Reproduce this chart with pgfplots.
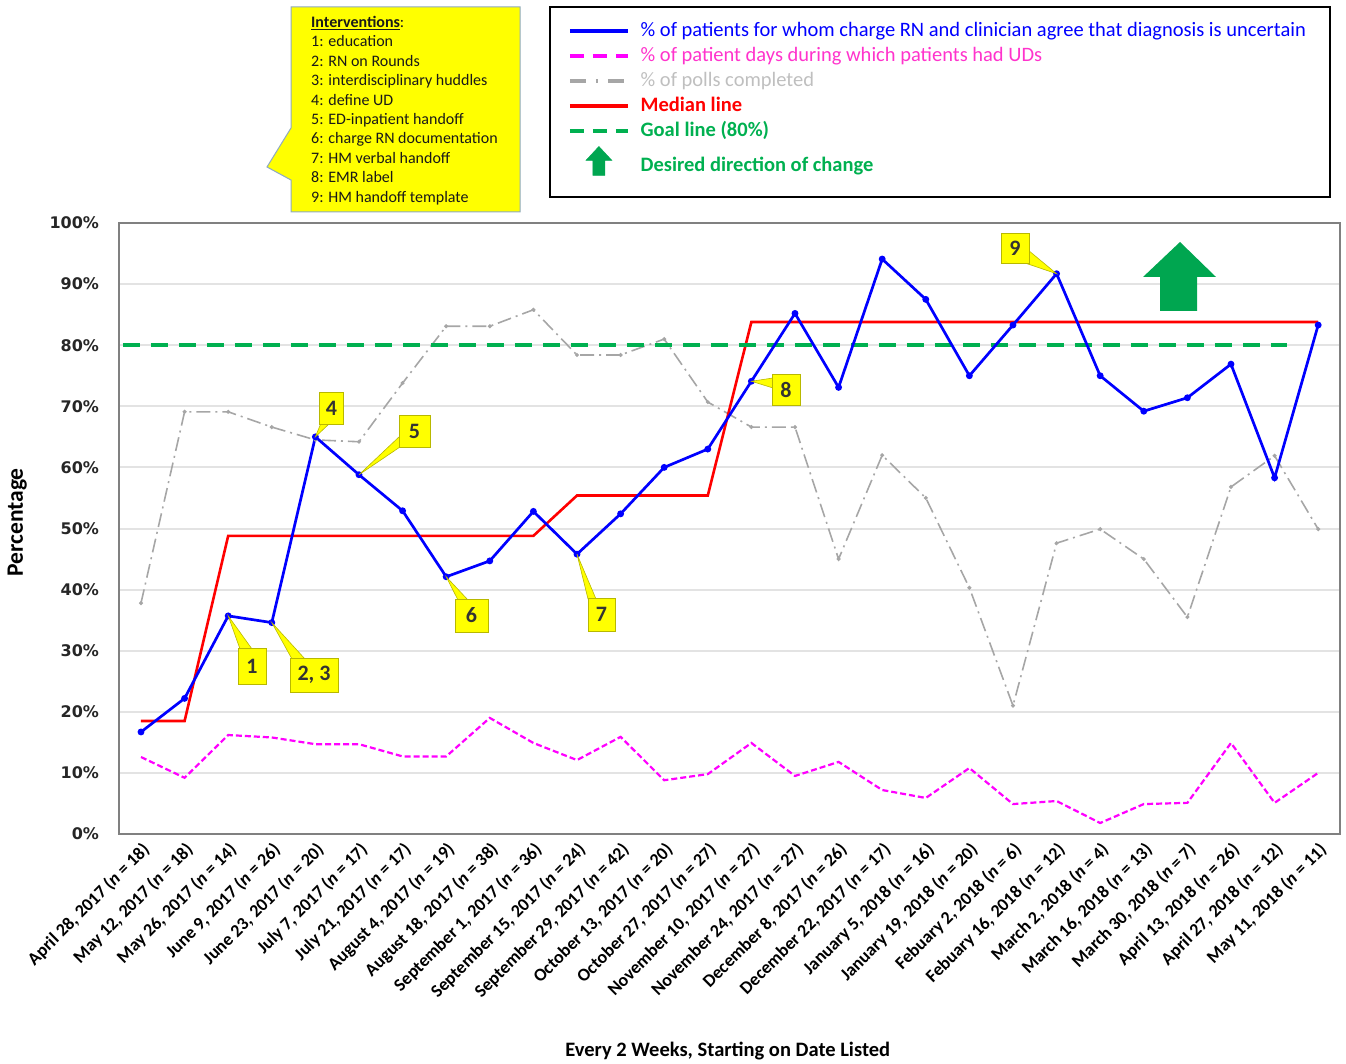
\documentclass[border=0pt]{standalone}
\usepackage{fontspec}
\setmainfont{Carlito}
\newfontfamily\dejavu{DejaVu Sans}
\usepackage{pgfplots}
\usepackage{pgfplotstable}
\pgfplotsset{compat=1.18}
\definecolor{bluel}{HTML}{0000FF}
\definecolor{mag}{HTML}{FF00FF}
\definecolor{magtext}{HTML}{FF33CC}
\definecolor{grayl}{HTML}{A6A6A6}
\definecolor{graytext}{HTML}{BFBFBF}
\definecolor{redl}{HTML}{FF0000}
\definecolor{greenl}{HTML}{00B050}
\definecolor{arrowg}{HTML}{00A650}
\definecolor{gridc}{HTML}{E3E3E3}
\definecolor{callout}{HTML}{FFFF00}
\definecolor{calloutedge}{HTML}{B8B800}
\definecolor{boxedge}{HTML}{8EA9C1}

\pgfplotstableread{
i blue days polls median
0 16.7 12.6 37.8 18.5
1 22.2 9.2 69.1 18.5
2 35.7 16.2 69.1 48.8
3 34.6 15.8 66.6 48.8
4 65.0 14.7 64.5 48.8
5 58.8 14.7 64.2 48.8
6 52.9 12.7 73.8 48.8
7 42.1 12.7 83.1 48.8
8 44.7 19.0 83.1 48.8
9 52.8 14.9 85.8 48.8
10 45.8 12.1 78.4 55.4
11 52.4 15.9 78.4 55.4
12 60.0 8.8 81.0 55.4
13 63.0 9.8 70.7 55.4
14 74.1 14.9 66.6 83.8
15 85.2 9.5 66.6 83.8
16 73.1 11.8 45.0 83.8
17 94.1 7.2 62.0 83.8
18 87.5 5.9 55.0 83.8
19 75.0 10.8 40.3 83.8
20 83.3 4.9 21.0 83.8
21 91.7 5.4 47.6 83.8
22 75.0 1.8 49.9 83.8
23 69.2 4.9 45.0 83.8
24 71.4 5.1 35.5 83.8
25 76.9 14.9 56.8 83.8
26 58.3 5.1 61.9 83.8
27 83.3 10.0 49.9 83.8
}\datatable

\begin{document}
\begin{tikzpicture}
\useasboundingbox (0pt,0pt) rectangle (1346pt,-1064pt);
\begin{axis}[
  at={(119.2pt,-834pt)}, anchor=south west,
  scale only axis, width=1220.8pt, height=611pt,
  xmin=-0.5, xmax=27.5, ymin=0, ymax=100,
  xtick={0,...,27},
  xticklabels={
    {April 28, 2017 (\textit{n} = 18)},
    {May 12, 2017 (\textit{n} = 18)},
    {May 26, 2017 (\textit{n} = 14)},
    {June 9, 2017 (\textit{n} = 26)},
    {June 23, 2017 (\textit{n} = 20)},
    {July 7, 2017 (\textit{n} = 17)},
    {July 21, 2017 (\textit{n} = 17)},
    {August 4, 2017 (\textit{n} = 19)},
    {August 18, 2017 (\textit{n} = 38)},
    {September 1, 2017 (\textit{n} = 36)},
    {September 15, 2017 (\textit{n} = 24)},
    {September 29, 2017 (\textit{n} = 42)},
    {October 13, 2017 (\textit{n} = 20)},
    {October 27, 2017 (\textit{n} = 27)},
    {November 10, 2017 (\textit{n} = 27)},
    {November 24, 2017 (\textit{n} = 27)},
    {December 8, 2017 (\textit{n} = 26)},
    {December 22, 2017 (\textit{n} = 17)},
    {January 5, 2018 (\textit{n} = 16)},
    {January 19, 2018 (\textit{n} = 20)},
    {Febuary 2, 2018 (\textit{n} = 6)},
    {Febuary 16, 2018 (\textit{n} = 12)},
    {March 2, 2018 (\textit{n} = 4)},
    {March 16, 2018 (\textit{n} = 13)},
    {March 30, 2018 (\textit{n} = 7)},
    {April 13, 2018 (\textit{n} = 26)},
    {April 27, 2018 (\textit{n} = 12)},
    {May 11, 2018 (\textit{n} = 11)}},
  xticklabel style={rotate=45, anchor=east, inner sep=1pt, xshift=-4pt, yshift=-13pt,
    font=\fontsize{18}{20}\selectfont\bfseries},
  ytick={0,10,...,100},
  yticklabels={0\%,10\%,20\%,30\%,40\%,50\%,60\%,70\%,80\%,90\%,100\%},
  yticklabel style={inner sep=0pt, xshift=-20pt, text=black!85,
    font=\fontsize{16}{16}\dejavu\bfseries},
  major tick length=0pt,
  ymajorgrids,
  grid style={gridc, line width=2pt},
  axis line style={draw=black!50, line width=2pt},
  xlabel={Every 2 Weeks, Starting on Date Listed},
  xlabel style={at={(axis description cs:0.4985,-0.355)}, anchor=center,
    font=\fontsize{20.5}{22}\selectfont\bfseries},
  ylabel={Percentage},
  ylabel style={at={(axis description cs:-0.0836,0.51)}, anchor=center,
    font=\fontsize{23.5}{24}\selectfont\bfseries},
  legend image code/.code={\draw[#1] (0pt,0pt) -- (58pt,0pt);},
  legend cell align=left,
  legend style={draw=none, fill=none,
    at={(axis description cs:0.3676,1.3306)}, anchor=north west,
    inner sep=0pt, row sep=5pt, column sep=11pt,
    nodes={inner sep=0pt, text height=15pt, text depth=5pt},
    font=\fontsize{20.5}{22}\selectfont},
]
% data
\addplot[forget plot, grayl, line width=1.6pt, dash pattern=on 14pt off 5pt on 2pt off 5pt,
  mark=*, mark size=1.1pt, mark options={solid}] table[x=i, y=polls] {\datatable};
\addplot[forget plot, mag, line width=2.2pt, dash pattern=on 6pt off 3pt,
  mark=none] table[x=i, y=days] {\datatable};
\addplot[forget plot, redl, line width=2.6pt, mark=none] table[x=i, y=median] {\datatable};
\addplot[forget plot, greenl, line width=4pt, dash pattern=on 17pt off 11pt, mark=none]
  coordinates {(-0.42,80) (26.28,80)};
\addplot[forget plot, bluel, line width=2.7pt, mark=*, mark size=2pt]
  table[x=i, y=blue] {\datatable};

\coordinate (t1) at (axis cs:2,35.7);
\coordinate (t2) at (axis cs:3,34.6);
\coordinate (t4) at (axis cs:4,65.0);
\coordinate (t5) at (axis cs:5,58.8);
\coordinate (t6) at (axis cs:7,42.1);
\coordinate (t7) at (axis cs:10,45.8);
\coordinate (t8) at (axis cs:14,74.1);
\coordinate (t9) at (axis cs:21,91.7);

% legend
\addlegendimage{bluel, line width=3.5pt}
\addlegendentry{\textcolor{bluel}{\% of patients for whom charge RN and clinician agree that diagnosis is uncertain}}
\addlegendimage{mag, line width=3.5pt, dash pattern=on 14pt off 9pt}
\addlegendentry{\textcolor{magtext}{\% of patient days during which patients had UDs}}
\addlegendimage{grayl, line width=3.5pt, dash pattern=on 16pt off 10pt on 2pt off 10pt}
\addlegendentry{\textcolor{graytext}{\% of polls completed}}
\addlegendimage{redl, line width=3.5pt}
\addlegendentry{\textcolor{redl}{\bfseries Median line}}
\addlegendimage{greenl, line width=3.5pt, dash pattern=on 14pt off 9pt}
\addlegendentry{\textcolor{greenl}{\bfseries Goal line (80\%)}}
\addlegendimage{legend image code/.code={\fill[arrowg] (16pt,6pt) -- (29pt,20pt) -- (42pt,6pt) -- (35pt,6pt) -- (35pt,-9pt) -- (23pt,-9pt) -- (23pt,6pt) -- cycle;}}
\addlegendentry{\textcolor{greenl}{\bfseries Desired direction of change}}
\end{axis}

% legend frame
\draw[line width=2.5pt, black] (550pt,-7pt) rectangle (1330pt,-197pt);

% interventions box
\filldraw[fill=callout, draw=boxedge, line width=1pt]
  (291pt,-7pt) -- (520pt,-7pt) -- (520pt,-212pt) -- (291pt,-212pt) -- (291pt,-180pt)
  -- (267pt,-167pt) -- (291pt,-128pt) -- cycle;
\node[anchor=north west, align=left, inner sep=0pt, text=black!90,
  font=\fontsize{16}{19.4}\selectfont] at (311pt,-16pt)
  {\underline{\textbf{Interventions}}:\\
   1: education\\
   2: RN on Rounds\\
   3: interdisciplinary huddles\\
   4: define UD\\
   5: ED-inpatient handoff\\
   6: charge RN documentation\\
   7: HM verbal handoff\\
   8: EMR label\\
   9: HM handoff template};

% desired direction arrow in plot
\fill[arrowg] (1143pt,-277pt) -- (1180pt,-242pt) -- (1216pt,-277pt) -- (1197pt,-277pt)
  -- (1197pt,-311pt) -- (1160pt,-311pt) -- (1160pt,-277pt) -- cycle;

% callouts
\tikzset{cbox/.style={draw=calloutedge, fill=callout, line width=0.8pt, inner sep=0pt,
   text=black!80, font=\fontsize{22}{22}\selectfont\bfseries},
   cptr/.style={fill=callout, draw=calloutedge, line width=0.6pt}}
\filldraw[cptr] (t1) -- (240pt,-649pt) -- (252pt,-649pt) -- cycle;
\node[cbox, minimum width=28pt, minimum height=36pt] at (252pt,-666pt) {1};
\filldraw[cptr] (t2) -- (292pt,-659pt) -- (305pt,-659pt) -- cycle;
\node[cbox, minimum width=48pt, minimum height=34pt] at (314pt,-675pt) {2, 3};
\filldraw[cptr] (t4) -- (321pt,-423pt) -- (330pt,-423pt) -- cycle;
\node[cbox, minimum width=24pt, minimum height=32pt] at (331.5pt,-408pt) {4};
\filldraw[cptr] (t5) -- (400pt,-436pt) -- (400pt,-447pt) -- cycle;
\node[cbox, minimum width=31pt, minimum height=32pt] at (414.5pt,-431pt) {5};
\filldraw[cptr] (t6) -- (458pt,-600pt) -- (468pt,-600pt) -- cycle;
\node[cbox, minimum width=33pt, minimum height=33pt] at (471.5pt,-615.5pt) {6};
\filldraw[cptr] (t7) -- (588pt,-599pt) -- (596pt,-599pt) -- cycle;
\node[cbox, minimum width=27pt, minimum height=33pt] at (601.5pt,-614.5pt) {7};
\filldraw[cptr] (t8) -- (773pt,-378pt) -- (773pt,-388pt) -- cycle;
\node[cbox, minimum width=28pt, minimum height=31pt] at (786pt,-389.5pt) {8};
\filldraw[cptr] (t9) -- (1028pt,-250pt) -- (1022pt,-262pt) -- cycle;
\node[cbox, minimum width=28pt, minimum height=30pt] at (1015pt,-248pt) {9};
\end{tikzpicture}
\end{document}
